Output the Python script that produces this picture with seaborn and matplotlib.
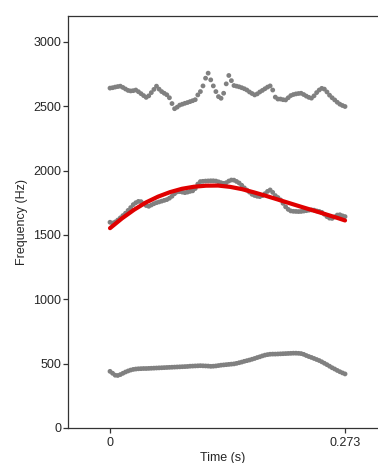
import numpy as np
import pandas as pd
import matplotlib
matplotlib.use("Agg")
import matplotlib.pyplot as plt
import seaborn as sns

sns.set_style("white")
plt.rcParams['font.family'] = ['Liberation Sans', 'DejaVu Sans']

# sample times (s): 92 frames, 3 ms step
time_s = np.round(np.arange(92) * 0.003, 4)

f1_hz = [440, 425, 410, 408, 415, 425, 435, 443, 450, 455,
         458, 460, 461, 462, 462, 463, 464, 465, 466, 467,
         468, 469, 470, 471, 472, 473, 474, 475, 476, 477,
         478, 480, 481, 482, 483, 484, 483, 482, 481, 479,
         480, 482, 485, 488, 490, 492, 494, 496, 498, 502,
         507, 512, 518, 523, 528, 534, 540, 547, 553, 560,
         566, 570, 573, 574, 574, 575, 576, 577, 578, 579,
         580, 581, 581, 580, 578, 572, 563, 555, 548, 540,
         532, 524, 514, 503, 492, 480, 468, 458, 447, 437,
         428, 420]

f2_hz = [1598, 1592, 1600, 1615, 1632, 1650, 1668, 1690, 1712, 1735,
         1750, 1760, 1758, 1742, 1728, 1722, 1732, 1742, 1750, 1756,
         1762, 1768, 1774, 1785, 1800, 1820, 1834, 1836, 1832, 1828,
         1832, 1838, 1842, 1860, 1895, 1914, 1916, 1918, 1919, 1920,
         1920, 1918, 1912, 1905, 1900, 1905, 1918, 1926, 1925, 1915,
         1903, 1885, 1865, 1848, 1832, 1815, 1806, 1800, 1797, 1805,
         1820, 1838, 1849, 1830, 1805, 1790, 1772, 1745, 1718, 1698,
         1686, 1683, 1682, 1681, 1682, 1685, 1688, 1692, 1694, 1692,
         1686, 1682, 1675, 1660, 1642, 1630, 1628, 1640, 1654, 1656,
         1648, 1642]

f3_hz = [2640, 2643, 2648, 2652, 2655, 2645, 2633, 2622, 2618, 2620,
         2625, 2612, 2597, 2582, 2568, 2580, 2605, 2630, 2655, 2632,
         2613, 2600, 2588, 2565, 2520, 2480, 2492, 2508, 2515, 2522,
         2528, 2535, 2542, 2550, 2587, 2613, 2657, 2717, 2756, 2704,
         2657, 2613, 2574, 2561, 2600, 2673, 2738, 2698, 2660, 2655,
         2650, 2643, 2635, 2625, 2610, 2598, 2587, 2595, 2610, 2622,
         2635, 2648, 2657, 2625, 2570, 2555, 2555, 2550, 2548, 2565,
         2582, 2590, 2595, 2598, 2600, 2590, 2578, 2568, 2562, 2580,
         2605, 2625, 2638, 2632, 2610, 2585, 2565, 2548, 2530, 2515,
         2505, 2497]

# smooth red contour
fit_time_s = [0.0, 0.0139, 0.0279, 0.0418, 0.0558, 0.0697, 0.0836,
              0.0976, 0.1115, 0.1255, 0.1394, 0.1534, 0.1673, 0.1812,
              0.1952, 0.2091, 0.2231, 0.2370, 0.2510, 0.2649, 0.273]
fit_hz = [1552, 1628, 1695, 1752, 1797, 1832, 1858,
          1874, 1882, 1883, 1873, 1855, 1830, 1803,
          1774, 1745, 1716, 1688, 1659, 1630, 1612]

x_ticks = [0, 0.273]
x_tick_labels = ["0", "0.273"]
y_ticks = [0, 500, 1000, 1500, 2000, 2500, 3000]

df = pd.DataFrame({
    "time": np.concatenate([time_s] * 3),
    "freq": np.concatenate([f1_hz, f2_hz, f3_hz]),
    "formant": ["F1"] * len(f1_hz) + ["F2"] * len(f2_hz) + ["F3"] * len(f3_hz),
})
fit_df = pd.DataFrame({"time": fit_time_s, "freq": fit_hz})

fig = plt.figure(figsize=(3.78, 4.63), dpi=100)
ax = fig.add_axes([68 / 378, 1 - 428 / 463, 1 - 68 / 378, (428 - 16) / 463])

sns.scatterplot(data=df, x="time", y="freq", hue="formant",
                palette=["#808080"] * 3, s=12, linewidth=0, legend=False, ax=ax)
sns.lineplot(data=fit_df, x="time", y="freq", color="#e00000",
             linewidth=3.0, ax=ax)

ax.set_xlim(-0.0488, 0.3113)
ax.set_ylim(0, 3200)
ax.set_xticks(x_ticks)
ax.set_xticklabels(x_tick_labels)
ax.set_yticks(y_ticks)
ax.set_yticklabels([str(v) for v in y_ticks])
ax.tick_params(axis="both", which="both", direction="out", length=3.5,
               width=0.9, color="#333333", labelsize=9, pad=1.5,
               left=True, bottom=True)
ax.tick_params(axis="x", pad=3)
for s in ["left", "top", "bottom"]:
    ax.spines[s].set_color("#333333")
    ax.spines[s].set_linewidth(0.9)
ax.spines["right"].set_visible(False)

ax.set_xlabel("Time (s)", fontsize=9, labelpad=2)
ax.set_ylabel("Frequency (Hz)", fontsize=9, labelpad=4)

fig.savefig("out.png", dpi=100)
